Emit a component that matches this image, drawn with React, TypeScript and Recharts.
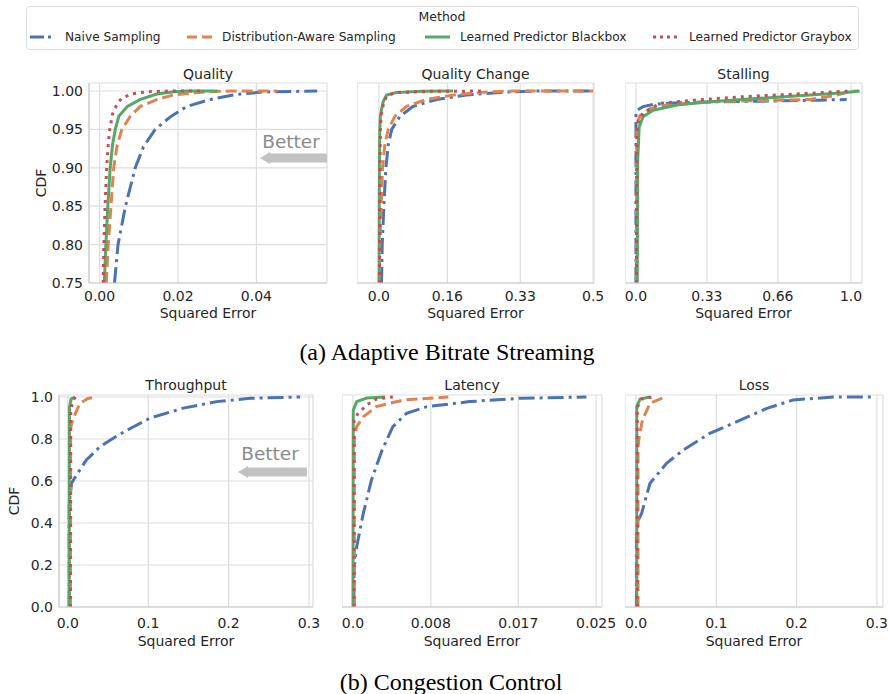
import React from 'react';
import { LineChart, Line, XAxis, YAxis, CartesianGrid } from 'recharts';

type Pt = [number, number];

const methods = ['Naive Sampling', 'Distribution-Aware Sampling', 'Learned Predictor Blackbox', 'Learned Predictor Graybox'];
const colors = ['#4C72B0', '#DD8452', '#55A868', '#C44E52'];
const dashes: (string | undefined)[] = ['16 5 3 5', '11 5', undefined, '3 5'];
const legendDashes: (string | undefined)[] = ['14 4 3 4', '10 5', undefined, '3 4'];

// (a) Adaptive Bitrate Streaming  — [squared error, cdf]
const qualityNaive: Pt[] = [[0.0038, 0.75], [0.0047, 0.8], [0.0066, 0.85], [0.0091, 0.9], [0.0112, 0.9275], [0.0142, 0.95], [0.0181, 0.9666], [0.0223, 0.98], [0.0283, 0.989], [0.0351, 0.9957], [0.0419, 0.9987], [0.0555, 1.0]];
const qualityDist: Pt[] = [[0.0017, 0.75], [0.0022, 0.8], [0.0029, 0.85], [0.0036, 0.9], [0.0045, 0.93], [0.0057, 0.95], [0.0078, 0.967], [0.0104, 0.98], [0.0147, 0.989], [0.0188, 0.9948], [0.0265, 0.9987], [0.0334, 1.0], [0.0453, 1.0]];
const qualityBlack: Pt[] = [[0.0012, 0.75], [0.0016, 0.8], [0.0021, 0.85], [0.0027, 0.9], [0.0033, 0.93], [0.004, 0.95], [0.0049, 0.967], [0.0071, 0.98], [0.0104, 0.989], [0.0146, 0.996], [0.019, 0.999], [0.0222, 1.0], [0.03, 1.0]];
const qualityGray: Pt[] = [[0.0009, 0.75], [0.0011, 0.8], [0.0014, 0.85], [0.0018, 0.9], [0.0022, 0.93], [0.0026, 0.95], [0.0033, 0.97], [0.0042, 0.98], [0.0055, 0.99], [0.008, 0.996], [0.012, 0.999], [0.018, 1.0], [0.026, 1.0]];

const changeNaive: Pt[] = [[0.0062, 0.75], [0.0078, 0.8], [0.0117, 0.85], [0.0164, 0.9], [0.022, 0.93], [0.03, 0.95], [0.049, 0.967], [0.08, 0.98], [0.135, 0.989], [0.205, 0.9948], [0.298, 0.9987], [0.376, 1.0], [0.5, 1.0]];
const changeDist: Pt[] = [[0.0008, 0.75], [0.0023, 0.8], [0.0055, 0.85], [0.0086, 0.9], [0.014, 0.93], [0.0218, 0.95], [0.0374, 0.967], [0.0646, 0.98], [0.1114, 0.989], [0.1737, 0.9948], [0.2516, 0.9987], [0.314, 1.0], [0.5, 1.0]];
const changeBlack: Pt[] = [[0.0005, 0.75], [0.0009, 0.85], [0.0013, 0.9], [0.0022, 0.95], [0.0035, 0.967], [0.0062, 0.976], [0.01, 0.986], [0.018, 0.9948], [0.041, 0.998], [0.1, 0.9995], [0.173, 1.0]];
const changeGray: Pt[] = [[0.0015, 0.75], [0.002, 0.85], [0.0025, 0.9], [0.0035, 0.95], [0.005, 0.967], [0.008, 0.976], [0.012, 0.986], [0.02, 0.9948], [0.045, 0.998], [0.12, 0.9995], [0.25, 1.0]];

const stallNaive: Pt[] = [[0, 0.75], [0, 0.971], [0.005, 0.975], [0.033, 0.9796], [0.09, 0.983], [0.2, 0.9848], [0.4, 0.986], [0.65, 0.987], [0.85, 0.988], [0.98, 0.989]];
const stallDist: Pt[] = [[0.002, 0.75], [0.004, 0.957], [0.019, 0.968], [0.065, 0.977], [0.158, 0.9825], [0.344, 0.986], [0.654, 0.988], [0.81, 0.989], [0.934, 0.9945], [0.995, 0.9996], [1.03, 1.0]];
const stallBlack: Pt[] = [[0.006, 0.75], [0.008, 0.91], [0.015, 0.9535], [0.033, 0.9666], [0.08, 0.975], [0.19, 0.9818], [0.344, 0.986], [0.577, 0.9904], [0.81, 0.9948], [0.965, 0.9978], [1.04, 1.0]];
const stallGray: Pt[] = [[0.002, 0.75], [0.005, 0.957], [0.033, 0.971], [0.112, 0.984], [0.266, 0.988], [0.5, 0.9926], [0.81, 0.997], [0.995, 1.0]];

// (b) Congestion Control
const thruNaive: Pt[] = [[0.0017, 0], [0.0017, 0.49], [0.0046, 0.589], [0.011, 0.63], [0.023, 0.7], [0.04, 0.763], [0.061, 0.815], [0.08, 0.855], [0.102, 0.899], [0.1436, 0.947], [0.185, 0.978], [0.227, 0.994], [0.289, 1.0]];
const thruDist: Pt[] = [[0.0033, 0], [0.0035, 0.85], [0.0058, 0.89], [0.015, 0.97], [0.025, 0.993], [0.036, 1.0]];
const thruBlack: Pt[] = [[0.0017, 0], [0.002, 0.95], [0.004, 0.99], [0.009, 1.0]];
const thruGray: Pt[] = [[0.0033, 0], [0.0035, 0.93], [0.006, 0.98], [0.0095, 1.0]];

const latNaive: Pt[] = [[0.0001, 0], [0.0001, 0.176], [0.00038, 0.287], [0.00106, 0.446], [0.0019, 0.605], [0.003, 0.748], [0.0041, 0.859], [0.0055, 0.922], [0.0076, 0.954], [0.012, 0.978], [0.0172, 0.994], [0.024, 1.0]];
const latDist: Pt[] = [[0.00014, 0], [0.00014, 0.81], [0.00038, 0.859], [0.00106, 0.906], [0.0024, 0.954], [0.0052, 0.986], [0.0098, 1.0]];
const latBlack: Pt[] = [[0, 0], [0.00003, 0.938], [0.00038, 0.978], [0.0014, 0.995], [0.0033, 1.0]];
const latGray: Pt[] = [[0.0001, 0], [0.0001, 0.89], [0.0005, 0.92], [0.0014, 0.962], [0.0024, 0.99], [0.0041, 1.0]];

const lossNaive: Pt[] = [[0.0005, 0], [0.0005, 0.335], [0.003, 0.414], [0.007, 0.446], [0.0174, 0.589], [0.038, 0.684], [0.059, 0.748], [0.092, 0.827], [0.121, 0.875], [0.163, 0.946], [0.196, 0.986], [0.246, 1.0], [0.295, 1.0]];
const lossDist: Pt[] = [[0.0025, 0], [0.0025, 0.763], [0.004, 0.81], [0.008, 0.89], [0.0174, 0.97], [0.036, 1.0]];
const lossBlack: Pt[] = [[0.001, 0], [0.001, 0.954], [0.005, 0.99], [0.0174, 1.0]];
const lossGray: Pt[] = [[0.0015, 0], [0.0015, 0.95], [0.007, 0.99], [0.021, 1.0]];

const topYTicks = [0.75, 0.8, 0.85, 0.9, 0.95, 1.0];
const botYTicks = [0, 0.2, 0.4, 0.6, 0.8, 1.0];

interface PanelDef {
  title: string;
  left: number;
  top: number;
  width: number;
  height: number;
  xDomain: [number, number];
  xTicks: number[];
  xLabels: string[];
  yDomain: [number, number];
  yTicks: number[];
  yDigits: number;
  showY: boolean;
  tickGap: number;
  series: Pt[][];
}

const panels: PanelDef[] = [
  { title: 'Quality', left: 89, top: 83, width: 238, height: 200, xDomain: [-0.0027, 0.058], xTicks: [0, 0.02, 0.04], xLabels: ['0.00', '0.02', '0.04'], yDomain: [0.75, 1.0104], yTicks: topYTicks, yDigits: 2, showY: true, tickGap: 8, series: [qualityNaive, qualityDist, qualityBlack, qualityGray] },
  { title: 'Quality Change', left: 357, top: 83, width: 237, height: 200, xDomain: [-0.051, 0.502], xTicks: [0, 0.16, 0.33, 0.5], xLabels: ['0.0', '0.16', '0.33', '0.5'], yDomain: [0.75, 1.0104], yTicks: topYTicks, yDigits: 2, showY: false, tickGap: 8, series: [changeNaive, changeDist, changeBlack, changeGray] },
  { title: 'Stalling', left: 625, top: 83, width: 237, height: 200, xDomain: [-0.051, 1.051], xTicks: [0, 0.33, 0.66, 1.0], xLabels: ['0.0', '0.33', '0.66', '1.0'], yDomain: [0.75, 1.0104], yTicks: topYTicks, yDigits: 2, showY: false, tickGap: 8, series: [stallNaive, stallDist, stallBlack, stallGray] },
  { title: 'Throughput', left: 59, top: 395, width: 254, height: 212, xDomain: [-0.011, 0.305], xTicks: [0, 0.1, 0.2, 0.3], xLabels: ['0.0', '0.1', '0.2', '0.3'], yDomain: [0, 1.0095], yTicks: botYTicks, yDigits: 1, showY: true, tickGap: 11, series: [thruNaive, thruDist, thruBlack, thruGray] },
  { title: 'Latency', left: 342, top: 395, width: 260, height: 212, xDomain: [-0.00113, 0.0256], xTicks: [0, 0.008, 0.017, 0.025], xLabels: ['0.0', '0.008', '0.017', '0.025'], yDomain: [0, 1.0095], yTicks: botYTicks, yDigits: 1, showY: false, tickGap: 11, series: [latNaive, latDist, latBlack, latGray] },
  { title: 'Loss', left: 625, top: 395, width: 258, height: 212, xDomain: [-0.0137, 0.3076], xTicks: [0, 0.1, 0.2, 0.3], xLabels: ['0.0', '0.1', '0.2', '0.3'], yDomain: [0, 1.0095], yTicks: botYTicks, yDigits: 1, showY: false, tickGap: 11, series: [lossNaive, lossDist, lossBlack, lossGray] },
];

const FONT = '"DejaVu Sans", sans-serif';
const INK = '#262626';
const tickStyle = { fontSize: 14, fill: INK, fontFamily: FONT };

function Txt({ x, y, children, size = 14, color = INK, rotate = false, family = FONT }: any) {
  return (
    <div
      style={{
        position: 'absolute',
        left: x,
        top: y,
        transform: `translate(-50%, -50%)${rotate ? ' rotate(-90deg)' : ''}`,
        fontSize: size,
        lineHeight: 1,
        color,
        fontFamily: family,
        whiteSpace: 'nowrap',
      }}
    >
      {children}
    </div>
  );
}

function Panel({ p }: { p: PanelDef }) {
  const yW = p.showY ? 50 : 0;
  const mr = 26;
  const mt = 12;
  const xh = 32;
  const cx = p.left + p.width / 2;
  const isTop = p.top < 200;
  return (
    <>
      <div style={{ position: 'absolute', left: p.left - yW, top: p.top - mt }}>
        <LineChart width={yW + p.width + mr} height={p.height + xh + mt} margin={{ top: mt, right: mr, bottom: 0, left: 0 }}>
          <CartesianGrid stroke="#dddddd" strokeWidth={1.2} />
          <XAxis
            dataKey="x"
            type="number"
            domain={p.xDomain}
            ticks={p.xTicks}
            allowDataOverflow
            height={xh}
            tickLine={false}
            tickSize={0}
            tickMargin={p.tickGap}
            axisLine={{ stroke: '#cccccc', strokeWidth: 1.2 }}
            tick={tickStyle}
            tickFormatter={(v: number) => p.xLabels[p.xTicks.indexOf(v)] ?? String(v)}
            interval={0}
          />
          <YAxis
            type="number"
            domain={p.yDomain}
            ticks={p.yTicks}
            allowDataOverflow
            width={yW}
            tickLine={false}
            tickSize={0}
            tickMargin={6}
            axisLine={{ stroke: '#cccccc', strokeWidth: 1.2 }}
            tick={p.showY ? tickStyle : false}
            tickFormatter={(v: number) => v.toFixed(p.yDigits)}
            interval={0}
          />
          {p.series.map((s, i) => (
            <Line
              key={methods[i]}
              name={methods[i]}
              data={s.map(([x, y]) => ({ x, y }))}
              dataKey="y"
              type="linear"
              stroke={colors[i]}
              strokeWidth={3}
              strokeDasharray={dashes[i]}
              dot={false}
              activeDot={false}
              isAnimationActive={false}
            />
          ))}
        </LineChart>
      </div>
      <Txt x={cx} y={isTop ? 74 : 385}>{p.title}</Txt>
      <Txt x={cx} y={isTop ? 313 : 641}>Squared Error</Txt>
    </>
  );
}

function Better({ x, y, ax0, ax1, ay }: { x: number; y: number; ax0: number; ax1: number; ay: number }) {
  return (
    <>
      <Txt x={x} y={y} size={18.5} color="#8a8a8a">Better</Txt>
      <svg style={{ position: 'absolute', left: 0, top: 0, overflow: 'visible' }} width={1} height={1}>
        <polygon
          points={`${ax0},${ay} ${ax0 + 10},${ay - 6} ${ax0 + 10},${ay - 4.5} ${ax1},${ay - 4.5} ${ax1},${ay + 4.5} ${ax0 + 10},${ay + 4.5} ${ax0 + 10},${ay + 6}`}
          fill="#c2c2c2"
        />
      </svg>
    </>
  );
}

const legendSlots = [
  { x0: 30, x1: 52, tx: 65 },
  { x0: 187, x1: 212, tx: 222 },
  { x0: 425, x1: 450, tx: 460 },
  { x0: 653, x1: 678, tx: 689 },
];

function Legend() {
  return (
    <>
      <div
        style={{
          position: 'absolute',
          left: 26,
          top: 6,
          width: 833,
          height: 44,
          border: '1px solid #dedede',
          borderRadius: 4,
          boxSizing: 'border-box',
        }}
      />
      <Txt x={442} y={17} size={12.5}>Method</Txt>
      <svg style={{ position: 'absolute', left: 0, top: 0 }} width={889} height={60}>
        {legendSlots.map((s, i) => (
          <line key={i} x1={s.x0} x2={s.x1} y1={37} y2={37} stroke={colors[i]} strokeWidth={3} strokeDasharray={legendDashes[i]} />
        ))}
      </svg>
      {legendSlots.map((s, i) => (
        <div
          key={methods[i]}
          style={{ position: 'absolute', left: s.tx, top: 30, fontSize: 12.2, lineHeight: '14px', fontFamily: FONT, color: INK, whiteSpace: 'nowrap' }}
        >
          {methods[i]}
        </div>
      ))}
    </>
  );
}

export default function App() {
  return (
    <div style={{ position: 'absolute', left: 0, top: 0, width: 889, height: 694, background: '#fff', overflow: 'hidden', fontFamily: FONT }}>
      <Legend />
      {panels.map((p) => (
        <Panel key={p.title} p={p} />
      ))}
      <Txt x={41} y={183} rotate>CDF</Txt>
      <Txt x={14} y={501} rotate>CDF</Txt>
      <Better x={291} y={142} ax0={260} ax1={327} ay={158} />
      <Better x={270} y={454} ax0={238} ax1={307} ay={472} />
      <Txt x={447} y={352} size={24} color="#000" family='"Liberation Serif", "Times New Roman", serif'>(a) Adaptive Bitrate Streaming</Txt>
      <Txt x={451} y={682} size={24} color="#000" family='"Liberation Serif", "Times New Roman", serif'>(b) Congestion Control</Txt>
    </div>
  );
}
